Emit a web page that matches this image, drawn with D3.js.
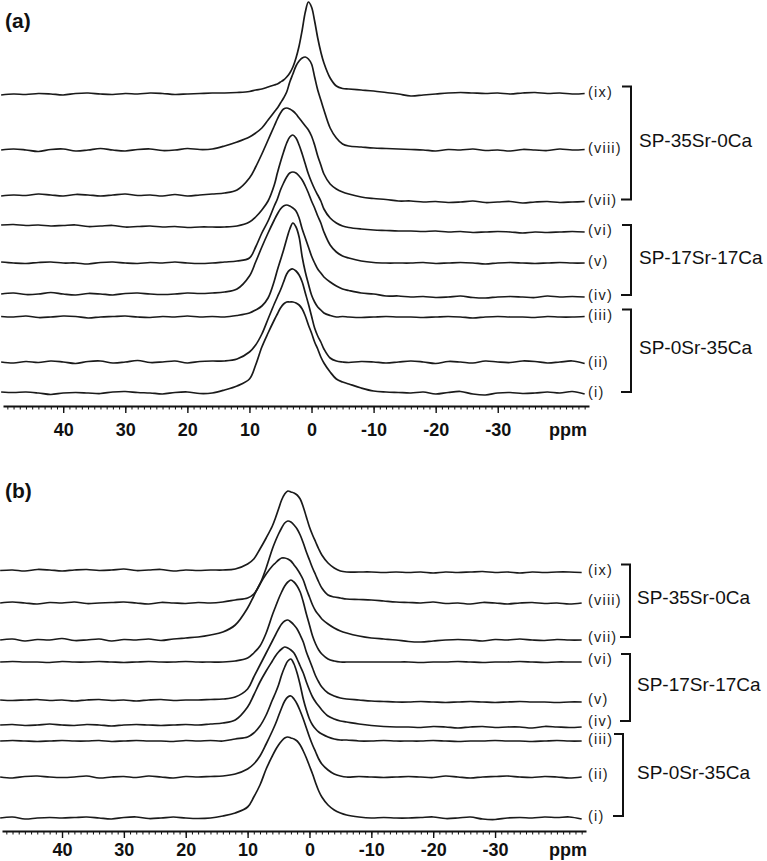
<!DOCTYPE html>
<html><head><meta charset="utf-8">
<script src="https://cdn.jsdelivr.net/npm/d3@7/dist/d3.min.js"></script>
<style>
html,body{margin:0;padding:0;background:#fff;}
svg{display:block;}
</style>
</head><body>
<svg id="chart" width="767" height="861"></svg>
<script>
// ---------------- DATA ----------------
// chemical shift grid (ppm)
const ppm = [50,48,46,44,42,40,38,36,34,32,30,28,26,24,22,20,18,16,
  14,12,10,9,8,7,6,5.5,5,4.5,4,3.5,3,2.5,2,1.5,1,0.5,0,-0.5,-1,-1.5,-2,-3,-4,-5,-6,-8,-10,-12,-14,
  -16,-18,-20,-22,-24,-26,-28,-30,-32,-34,-36,-38,-40,-42,-44];

const sampleLabels = ["(i)","(ii)","(iii)","(iv)","(v)","(vi)","(vii)","(viii)","(ix)"];
const groupNames = ["SP-0Sr-35Ca","SP-17Sr-17Ca","SP-35Sr-0Ca"];
const groupMembers = [[0,2],[3,5],[6,8]];   // index ranges (bottom, top)
const majorTicks = [40,30,20,10,0,-10,-20,-30];
const axisUnit = "ppm";
const panelNames = ["(a)","(b)"];

// stacking offsets (intensity units) of traces (i)..(ix)
const offsetsA = [0,31,76,99,130,163,193,243,299];
const offsetsB = [0,41,77,91,116,156,178,215,246];

// panel (a) intensities
const a1 = [1,0.5,1,0,-1.5,0,0.5,0,-0.5,1,1.5,0.5,0,-1,0.5,1,-0.5,0,
  3,7,14,28,46,60,73,79,85,89,91,91,91,90,88,84,77,68,60,51,44,36,30,21,14,11,9,5,2,1,0.5,
  0,1,-1,0.5,1.5,-1,-2,0,0.5,-0.5,0,1,0,1.5,-1];
const a2 = [0,-1,0.5,-0.5,1,0,-1.5,0.5,1,-1,0,1.5,-0.5,0,1,-1,0.5,1,
  1,3,10,17,28,43,58,65,72,80,88,92,93,91,87,80,69,58,46,34,26,20,13,4,1,0,-0.5,0.5,0,-1,0,
  1,0,-1.5,0.5,0,-1,1,0,-0.5,1,0.5,-1,0,1,-1.5];
const a3 = [0.5,0,1,-0.5,0,1,0.5,-1,0,0.5,1,0,-0.5,0.5,0,1,0,0.5,
  0,1.5,4,7,11,19,36,47,57,67,78,88,94,90,80,60,45,33,22,15,10,7,4,1.5,0,0.5,0,-0.5,0,0.5,0,
  0,-0.5,0,0.5,0,-1,0,0.5,0,0,-0.5,0.5,0,0,0.5];
const a4 = [0,1,-0.5,0,1.5,0,-1,0.5,0,-1,0.5,1,0,-0.5,0,1,0.5,1,
  2,5,18,32,47,61,74,80,85,88,89,88,86,83,76,65,56,47,38,31,25,21,17,12,8,5,3.5,1,0,-2,-2,
  -3,-2.5,-3.5,-3,-2,-3.5,-4,-3,-2.5,-3,-3.5,-2,-3,-2.5,-3];
const a5 = [1,0,-0.5,0.5,1,0,0,-1,0.5,1,0,-0.5,0.5,0,1,0,-0.5,0,
  1,2,5,16,30,42,57,64,73,80,86,90,91,90,87,83,77,70,62,55,47,40,31,18,11,7,5,2,0.5,0,0,
  0,0.5,-0.5,0,0.5,0,-1,0,0.5,0,-0.5,0,0.5,0,0];
const a6 = [5,5.5,4.5,5,4,4.5,5,3.5,4,4.5,3,3.5,4,3,3.5,2.5,3,3,
  3,4,8,13,20,29,45,57,68,78,87,93,95,92,85,76,66,56,48,41,35,29,21,12,7,4,2.5,1,0,-0.5,-1,
  -1,-1.5,-1,-2,-1.5,-2.5,-2,-1.5,-2,-3,-2,-2.5,-2,-1.5,-2];
const a7 = [4,5,4.5,6,5,4,5.5,5,4,5,6,4.5,5,4,5.5,4,5,6,
  7,10,22,33,46,60,74,81,87,91,92,91,89,86,82,78,74,70,64,55,44,35,26,16,11,8,6,3,1.5,0.5,-1,
  -1,-2,-1.5,-2.5,-2,-1,-2.5,-2,-1.5,-3,-2,-1.5,-2.5,-2,-1.5];
const a8 = [0,1,0,-1.5,0.5,1,-1,0,1.5,0,-1,0.5,1,-0.5,0,1.5,0.5,1,
  4,8,13,17,22,30,38,42,47,52,58,68,76,84,89,92,93,91,86,73,60,50,40,22,12,6,4,3,2,1.5,1,
  0.5,0,-1,0.5,0,1,-0.5,0,-1,0.5,0,-0.5,1,0,0.5];
const a9 = [-1,0,-0.5,0.5,0,-1,0.5,1,0,-0.5,0.5,0,1,0.5,-0.5,0,0.5,1,
  1,1.5,2.5,4,5,7,9,10,12,14,17,21,27,36,48,64,82,92,87,73,56,42,31,16,8,5.5,5,4,3,1.5,0,
  -2,-1,0,1,1.5,1,0.5,1,0,1,1.5,0.5,1,0,0.5];

// panel (b) intensities
const b1 = [0,1,-1,0,0.5,0,0.5,1,0,-1,0.5,1,-0.5,0,1,0,-0.5,0,
  2,5,11,21,33,49,62,68,73,77,80,81,80,79,77,73,67,60,52,44,35,27,21,13,8,5,3,1,0,0.5,0,
  0,0.5,1,-0.5,0,1,-1,-1.5,0,0.5,0,1,0.5,1,-1];
const b2 = [0,-1,0.5,1,0,-0.5,0,1,-1,0,0.5,-0.5,1,0,-1,0.5,0,0.5,
  1,3,8,13,21,33,46,53,61,69,76,80,81,78,73,66,58,49,40,32,25,18,13,7,3,1,0,0.5,0,-0.5,0,
  0.5,0,-0.5,1,0,-1,0,0.5,1,0,-0.5,0.5,0,-1,0];
const b3 = [0,0.5,0,-0.5,0,0.5,0,0,0.5,-0.5,0,0.5,0,0,-0.5,0.5,0,0.5,
  0,2,4,8,15,26,41,48,56,66,74,80,82,77,68,56,42,31,22,16,12,9,7,4,2,1,1,0,0,0.5,0,
  0,0,0.5,0,-0.5,0,0,0.5,0,0,-0.5,0,0.5,0,0];
const b4 = [2,2.5,1.5,2,3,2,1.5,2.5,2,1,2,2.5,2,1.5,2,2.5,2,3,
  4,7,20,32,45,56,66,71,75,78,80,79,77,74,68,61,54,45,37,30,25,21,17,11,8,6,5,3,1.5,0.5,0,
  0,-0.5,0.5,0,-1,0,0.5,-0.5,0,0,-1,0.5,0,-0.5,0];
const b5 = [2,1.5,2,2.5,1.5,2,1,2,2.5,1.5,2,1,2,2.5,1.5,2,2,2.5,
  3,5,13,25,37,49,61,67,73,78,81,82,80,77,73,67,60,50,42,34,26,20,15,9,6,4,3,2,1,0.5,0,
  0,0.5,0,-0.5,0,0.5,0,-0.5,0,0.5,0,0,-0.5,0,0];
const b6 = [0,0.5,0,0,-0.5,0.5,0,0,0.5,0,-0.5,0,0.5,0,0,0.5,0,0,
  0,1,4,9,16,29,47,55,63,70,76,80,82,80,76,70,60,48,37,26,18,12,8,3,1,0,0,0,0,0,0,
  0,-0.5,0,0,0.5,0,-0.5,0,0,0.5,0,-0.5,0,0,0];
const b7 = [0,1,-1,0.5,0,1.5,-0.5,0,1,-1,0.5,0,1,-0.5,1,2,3,5,
  8,15,32,44,56,66,74,77,80,82,82,81,79,75,71,66,60,51,43,35,29,25,21,16,12,9,7,4,2,1,0,
  -1.5,-2,-1,0,0.5,0,-1,0.5,0,1,0,-0.5,0.5,0,0];
const b8 = [0,1,0,-1,0.5,0,1,-0.5,0,0.5,1,0,-1,0.5,0,-0.5,0.5,0,
  1,3,5,9,19,35,54,62,69,75,80,82,81,78,74,68,60,51,43,35,28,21,15,8,6,5,4,3.5,3,2,1,
  0.5,0,1,-0.5,0,-1,0.5,0,-1,0,0.5,-0.5,0,-1,0];
const b9 = [1.5,2,1,2.5,2,1,2,2.5,1.5,2,3,1.5,2,2.5,1,2,1.5,2,
  2,3,8,13,23,34,46,54,63,72,78,81,80,79,77,73,65,55,45,37,30,23,17,9,4,1,0,0,0,-0.5,0,
  -0.5,0,-1,0,-0.5,0,0.5,-0.5,0,-1,0,-0.5,0,0,-0.5];

const seriesA = [a1,a2,a3,a4,a5,a6,a7,a8,a9];
const seriesB = [b1,b2,b3,b4,b5,b6,b7,b8,b9];

// ---------------- DRAW ----------------
const svg = d3.select("#chart");
const FONT = "'Liberation Sans', Arial, Helvetica, sans-serif";
const INK = "#1a1a1a";

const panels = [
  {name: panelNames[0], series: seriesA, offsets: offsetsA, base: 393, axisY: 406, x0: 3, x1: 589,
   nameY: 28, labY: 436, groupXs: [631,631,631], textX: 639, labDy: -2, nudge: {}},
  {name: panelNames[1], series: seriesB, offsets: offsetsB, base: 818, axisY: 831, x0: 2, x1: 586,
   nameY: 498, labY: 856, groupXs: [623,630,630], textX: 637, labDy: -3, nudge: {2: 1, 3: -3}}
];

panels.forEach(p => {
  const g = svg.append("g");
  const x = d3.scaleLinear().domain([49.7, -44.7]).range([p.x0, p.x1]);
  const y = d3.scaleLinear().domain([0, 400]).range([p.base, p.base - 400]);

  // panel letter
  g.append("text").attr("x", 5).attr("y", p.nameY)
    .attr("font-family", FONT).attr("font-weight", "bold").attr("font-size", 21)
    .attr("fill", "#111").text(p.name);

  // traces
  const labelYs = [];
  p.series.forEach((vals, i) => {
    const off = p.offsets[i];
    const pts = ppm.map((v, k) => [v, vals[k] + off]);
    const line = d3.line().x(d => x(d[0])).y(d => y(d[1])).curve(d3.curveCatmullRom.alpha(0.5));
    g.append("path").attr("d", line(pts)).attr("fill", "none")
      .attr("stroke", INK).attr("stroke-width", 1.7).attr("stroke-linejoin", "round");
    const ly = y(pts[pts.length - 1][1]) + p.labDy + (p.nudge[i] || 0);
    labelYs.push(ly);
    g.append("text").attr("x", 588).attr("y", ly).attr("dy", "0.35em")
      .attr("font-family", FONT).attr("font-size", 14.5).attr("letter-spacing", 1.2)
      .attr("fill", "#222").text(sampleLabels[i]);
  });

  // brackets and group names
  groupMembers.forEach((m, gi) => {
    const top = labelYs[m[1]] - 5;
    const bot = labelYs[m[0]];
    const bx = p.groupXs[gi];
    g.append("path")
      .attr("d", `M${bx - 9},${top}H${bx}V${bot}H${bx - 10}`)
      .attr("fill", "none").attr("stroke", "#111").attr("stroke-width", 2);
    g.append("text").attr("x", p.textX).attr("y", (top + bot) / 2 - 3).attr("dy", "0.35em")
      .attr("font-family", FONT).attr("font-size", 19).attr("fill", "#111")
      .text(groupNames[gi]);
  });

  // axis: minor ticks and major ticks in separate groups
  const minor = g.append("g").attr("transform", `translate(0,${p.axisY})`);
  minor.call(d3.axisBottom(x).tickValues(d3.range(-44, 50, 1)).tickSize(3.5).tickSizeOuter(0).tickFormat(""));
  minor.select(".domain").remove();
  minor.selectAll(".tick line").attr("stroke", "#111").attr("stroke-width", 1);

  const ax = g.append("g").attr("transform", `translate(0,${p.axisY})`);
  ax.call(d3.axisBottom(x).tickValues(majorTicks).tickSize(7).tickSizeOuter(0).tickFormat(d => String(d)));
  ax.select(".domain").attr("stroke", "#111").attr("stroke-width", 2);
  ax.selectAll(".tick line").attr("stroke", "#111").attr("stroke-width", 1.4);
  ax.selectAll(".tick text").attr("font-family", FONT).attr("font-weight", "bold")
    .attr("font-size", 18).attr("fill", "#111")
    .attr("y", p.labY - p.axisY).attr("dy", 0);
  g.append("text").attr("x", 568).attr("y", p.labY).attr("text-anchor", "middle")
    .attr("font-family", FONT).attr("font-weight", "bold").attr("font-size", 18)
    .attr("fill", "#111").text(axisUnit);
});
</script>
</body></html>
